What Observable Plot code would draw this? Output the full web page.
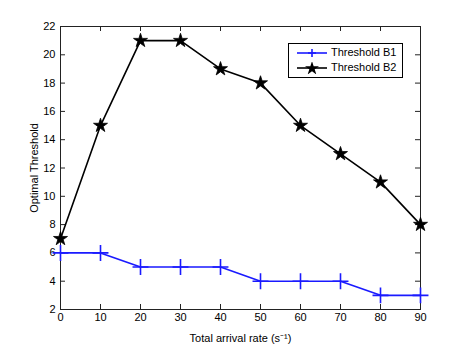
<!DOCTYPE html>
<html><head><meta charset="utf-8">
<script src="https://cdn.jsdelivr.net/npm/d3@7"></script>
<script src="https://cdn.jsdelivr.net/npm/@observablehq/plot@0.6"></script>
<style>
body{margin:0;background:#fff;}
#wrap{position:relative;width:463px;height:348px;font-family:"Liberation Sans",Arial,sans-serif;}
#legend{position:absolute;left:288px;top:43px;width:113px;height:33px;border:1px solid #000;background:#fff;font-size:11px;}
#legend div{position:relative;height:12px;margin-top:3px;}
#legend svg{position:absolute;left:6px;top:0;}
#legend span{position:absolute;left:42px;top:-1px;}
</style></head>
<body><div id="wrap"></div>
<script>
const rates = [0,10,20,30,40,50,60,70,80,90];
const thresholdB1 = [6,6,5,5,5,4,4,4,3,3];
const thresholdB2 = [7,15,21,21,19,18,15,13,11,8];
const xTicks = [0,10,20,30,40,50,60,70,80,90];
const yTicks = [2,4,6,8,10,12,14,16,18,20,22];
const seriesNames = ["Threshold B1","Threshold B2"];

const b1 = rates.map((r,i)=>({x:r,y:thresholdB1[i]}));
const b2 = rates.map((r,i)=>({x:r,y:thresholdB2[i]}));

const W=463,H=348,mL=60,mR=43,mT=26,mB=39;
const fw=W-mL-mR, fh=H-mT-mB;
const chart = Plot.plot({
  width:W,height:H,marginLeft:mL,marginRight:mR,marginTop:mT,marginBottom:mB,
  style:{fontFamily:"Liberation Sans, Arial, sans-serif",fontSize:"11px",color:"#000",background:"#fff"},
  x:{domain:[0,90]},
  y:{domain:[2,22]},
  marks:[
    Plot.frame({stroke:"#222"}),
    Plot.tickX(xTicks,{x:d=>d,insetTop:fh-5,stroke:"#222"}),
    Plot.tickX(xTicks,{x:d=>d,insetBottom:fh-5,stroke:"#222"}),
    Plot.tickY(yTicks,{y:d=>d,insetRight:fw-5,stroke:"#222"}),
    Plot.tickY(yTicks,{y:d=>d,insetLeft:fw-5,stroke:"#222"}),
    Plot.axisX(xTicks,{tickSize:0,tickPadding:4,label:"Total arrival rate (s⁻¹)",labelAnchor:"center",labelOffset:32,labelArrow:"none",fontSize:11}),
    Plot.axisY(yTicks,{tickSize:0,tickPadding:5,label:"Optimal Threshold",labelAnchor:"center",labelOffset:30,labelArrow:"none",fontSize:11}),
    Plot.line(b1,{x:"x",y:"y",stroke:"#1a1aff",strokeWidth:1.6}),
    Plot.dot(b1,{x:"x",y:"y",symbol:"plus",r:5.2,stroke:"#1a1aff",strokeWidth:1.6}),
    Plot.line(b2,{x:"x",y:"y",stroke:"#000",strokeWidth:1.6}),
    Plot.dot(b2,{x:"x",y:"y",symbol:"star",r:4.4,fill:"#000",stroke:"#000",strokeWidth:0.8})
  ]
});
const wrap=document.getElementById("wrap");
wrap.appendChild(chart);
const leg=document.createElement("div");
leg.id="legend";
leg.innerHTML=`<div><svg width="34" height="12"><line x1="2" x2="32" y1="6" y2="6" stroke="#1a1aff" stroke-width="1.6"/><path d="M17,2V10M13,6H21" stroke="#1a1aff" stroke-width="1.6"/></svg><span>${seriesNames[0]}</span></div>
<div><svg width="34" height="12"><line x1="2" x2="32" y1="6" y2="6" stroke="#000" stroke-width="1.6"/><path transform="translate(17,6.5)" d="${d3.symbol(d3.symbolStar, Math.PI*4.4*4.4)()}" fill="#000"/></svg><span>${seriesNames[1]}</span></div>`;
wrap.appendChild(leg);
</script></body></html>
